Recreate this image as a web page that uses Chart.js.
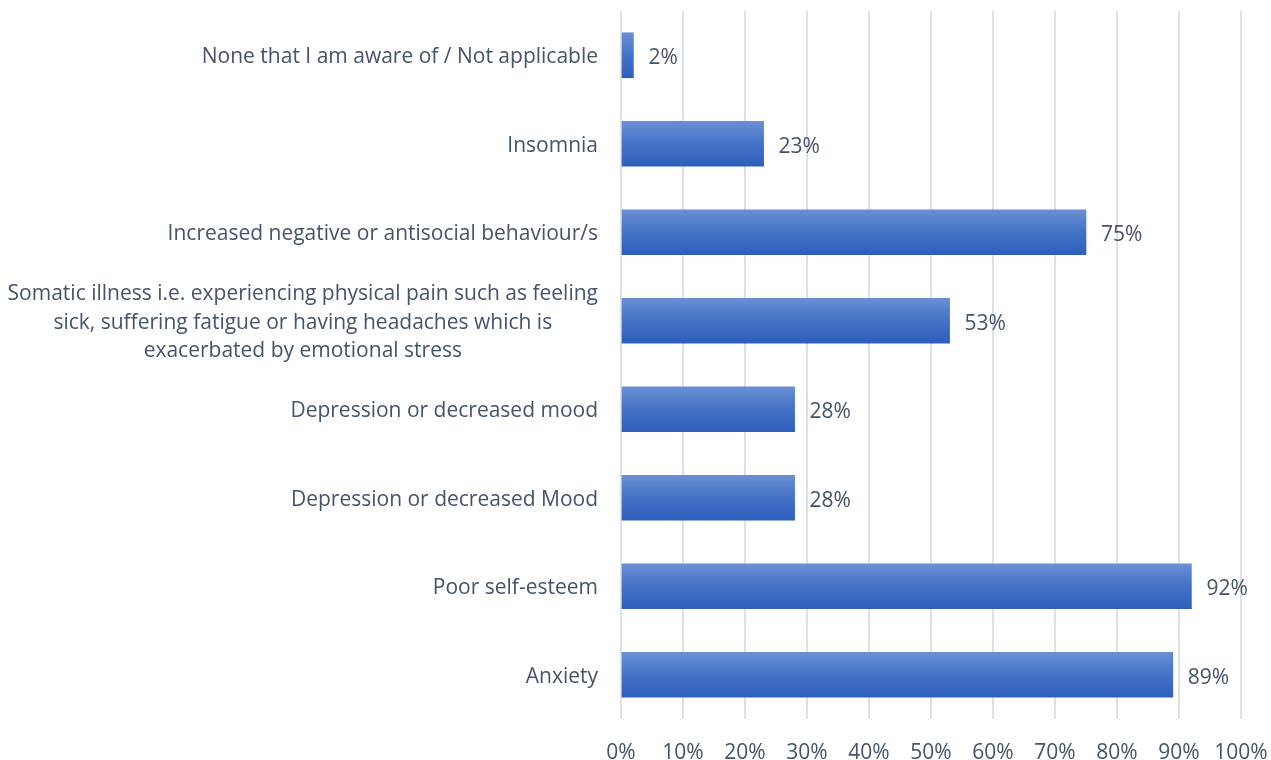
<!DOCTYPE html>
<html>
<head>
<meta charset="utf-8">
<script src="https://cdn.jsdelivr.net/npm/chart.js@4.4.1/dist/chart.umd.min.js"></script>
<style>
  html, body { margin: 0; padding: 0; background: #ffffff; }
  #wrap { width: 1271px; height: 760px; }
</style>
</head>
<body>
<div id="wrap"><canvas id="mainChart" width="1271" height="760"></canvas></div>
<script>
// categories, top to bottom, as lines of text
var categories = [
  ["None that I am aware of / Not applicable"],
  ["Insomnia"],
  ["Increased negative or antisocial behaviour/s"],
  ["Somatic illness i.e. experiencing physical pain such as feeling",
   "sick, suffering fatigue or having headaches which is",
   "exacerbated by emotional stress"],
  ["Depression or decreased mood"],
  ["Depression or decreased Mood"],
  ["Poor self-esteem"],
  ["Anxiety"]
];
var percentages = [2, 23, 75, 53, 28, 28, 92, 89];
var tickLabels = ["0%", "10%", "20%", "30%", "40%", "50%", "60%", "70%", "80%", "90%", "100%"];

var textColor = "#44546a";
var fontFamily = "'Open Sans', sans-serif";
var fontSize = 21;
var barSize = 45;

// vertical blue gradient on each bar
function barFill(ctx) {
  var chart = ctx.chart;
  if (!chart.chartArea || !chart.scales.y) return "#4472c4";
  var yc = chart.scales.y.getPixelForValue(ctx.dataIndex);
  var g = chart.ctx.createLinearGradient(0, yc - barSize / 2, 0, yc + barSize / 2);
  g.addColorStop(0, "#6a8fd3");
  g.addColorStop(0.5, "#4472c6");
  g.addColorStop(1, "#2d5fbb");
  return g;
}

// draws the category names (right-aligned, wrapped ones centred in their block)
// and the value labels at the end of each bar
var labelPlugin = {
  id: "labelPlugin",
  afterDatasetsDraw: function(chart) {
    var c = chart.ctx;
    var y = chart.scales.y;
    var meta = chart.getDatasetMeta(0);
    c.save();
    c.font = fontSize + "px " + fontFamily;
    c.fillStyle = textColor;
    c.textBaseline = "middle";
    var lineH = 28.5;
    categories.forEach(function(lines, i) {
      var yc = y.getPixelForValue(i) + 2;
      var right = y.right - 23;
      var widest = 0;
      lines.forEach(function(l) { widest = Math.max(widest, c.measureText(l).width); });
      var y0 = yc - (lines.length - 1) * lineH / 2;
      lines.forEach(function(l, k) {
        if (lines.length > 1) {
          c.textAlign = "center";
          c.fillText(l, right - widest / 2, y0 + k * lineH);
        } else {
          c.textAlign = "right";
          c.fillText(l, right, y0 + k * lineH);
        }
      });
      var bar = meta.data[i];
      c.textAlign = "left";
      c.fillText(percentages[i] + "%", bar.x + 15, yc + 1);
    });
    c.restore();
  }
};

var data = {
  labels: categories,
  datasets: [{
    data: percentages,
    backgroundColor: barFill,
    barThickness: barSize,
    borderWidth: 0
  }]
};

var options = {
  indexAxis: "y",
  responsive: false,
  animation: false,
  layout: { padding: { top: 11, right: 30, bottom: 0, left: 0 } },
  plugins: {
    legend: { display: false },
    tooltip: { enabled: false }
  },
  scales: {
    x: {
      min: 0,
      max: 100,
      border: { display: false },
      grid: { color: "#dde1e8", lineWidth: 2, drawTicks: false },
      ticks: {
        stepSize: 10,
        padding: 21,
        color: textColor,
        font: { family: fontFamily, size: fontSize },
        maxRotation: 0,
        callback: function(v, i) { return tickLabels[i]; }
      },
      afterFit: function(scale) {
        scale.height = 41;
        scale.paddingLeft = 0;
        scale.paddingRight = 0;
      }
    },
    y: {
      border: { display: false },
      grid: { display: false },
      ticks: { display: false },
      afterFit: function(scale) { scale.width = 621; }
    }
  }
};

var config = {
  type: "bar",
  data: data,
  options: options,
  plugins: [labelPlugin]
};

var ctx = document.getElementById("mainChart");
new Chart(ctx, config);
</script>
</body>
</html>
